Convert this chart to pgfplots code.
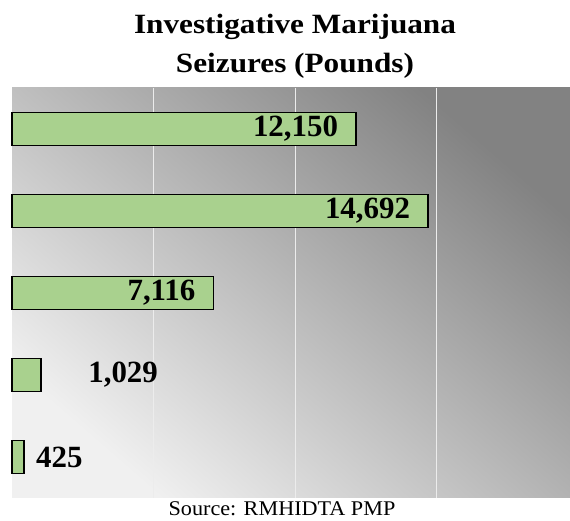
\documentclass[border=0pt]{standalone}
\usepackage{fontspec}
\setmainfont{Liberation Serif}
\newfontfamily\titlefont[FakeStretch=1.12]{Liberation Serif}
\newfontfamily\srcfont[FakeStretch=1.06]{Liberation Serif}
\usepackage{pgfplots}
\pgfplotsset{compat=1.18}
\definecolor{bargreen}{HTML}{A9D18E}
\begin{document}
\begin{tikzpicture}[x=1bp,y=1bp]
\useasboundingbox (0,0) rectangle (570,521);
\begin{axis}[
  at={(12bp,23bp)}, anchor=south west,
  scale only axis=true, width=558bp, height=410bp,
  xbar, bar width=33bp,
  xmin=0, xmax=19700, ymin=0.5, ymax=5.5,
  axis line style={draw=none},
  xtick={5000,10000,15000}, xticklabels={}, scaled x ticks=false,
  ytick=\empty,
  major tick length=0pt,
  xmajorgrids=true,
  grid style={white!85!gray, line width=1.1pt},
  axis background/.style={shade, top color=black!49, bottom color=black!6, shading angle=-41},
  clip=false,
]
\addplot[draw=black, line width=1.4pt, fill=bargreen] coordinates {
  (12150,5) (14692,4) (7116,3) (1029,2) (425,1)
};
\begin{scope}[font=\fontsize{31}{34}\selectfont\bfseries]
\node[anchor=east, inner sep=0pt] at (axis cs:12150,5) [xshift=-18bp] {12,150};
\node[anchor=east, inner sep=0pt] at (axis cs:14692,4) [xshift=-18bp] {14,692};
\node[anchor=east, inner sep=0pt] at (axis cs:7116,3) [xshift=-18bp] {7,116};
\node[anchor=west, inner sep=0pt] at (axis cs:1029,2) [xshift=47bp] {1,029};
\node[anchor=west, inner sep=0pt] at (axis cs:425,1) [xshift=12bp] {425};
\end{scope}
\end{axis}
\node[anchor=base, font=\fontsize{28}{32}\titlefont\bfseries] at (295,487) {Investigative Marijuana};
\node[anchor=base, font=\fontsize{28}{32}\titlefont\bfseries] at (295,448) {Seizures (Pounds)};
\node[anchor=base, font=\fontsize{21}{24}\srcfont] at (282,5) {Source: RMHIDTA PMP};
\end{tikzpicture}
\end{document}
